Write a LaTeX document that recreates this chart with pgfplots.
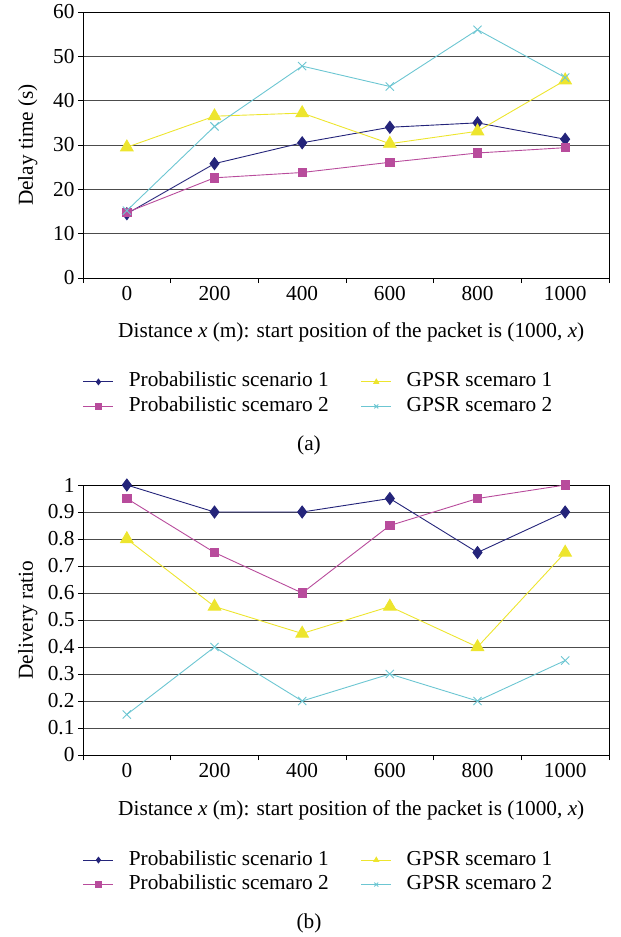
\documentclass[border=0pt]{standalone}
\usepackage{fontspec}
\setmainfont{Liberation Serif}
\usepackage{pgfplots}
\pgfplotsset{compat=1.18}
\definecolor{cP1}{HTML}{24247A}
\definecolor{cP2}{HTML}{B84C9C}
\definecolor{cG1}{HTML}{EDE52E}
\definecolor{cG2}{HTML}{6CC6D2}
\newcommand{\fs}{\fontsize{21.3}{25}\selectfont}
\pgfplotsset{
  common/.style={
    scale only axis, width=526pt,
    xmin=-0.5, xmax=5.5,
    xtick={0,1,2,3,4,5},
    xticklabels={0,200,400,600,800,1000},
    minor xtick={-0.5,0.5,1.5,2.5,3.5,4.5,5.5},
    major x tick style={draw=none},
    minor x tick style={black, line width=0.8pt},
    minor tick length=5pt,
    major tick length=5pt,
    tick align=outside, tick pos=left,
    ymajorgrids, major grid style={black!70, line width=0.9pt},
    axis line style={black, line width=0.9pt},
    y tick style={black, line width=0.8pt},
    font=\fs,
    tick label style={font=\fs},
    /pgf/number format/assume math mode=true,
    legend columns=2,
    legend cell align=left,
    legend style={draw=none, fill=none, font=\fs, inner sep=0pt, outer sep=0pt,
      nodes={inner sep=0pt, text height=15pt, text depth=5pt},
      /tikz/every odd column/.append style={column sep=15pt},
      /tikz/every even column/.append style={column sep=32pt}, row sep=4.5pt},
    legend image code/.code={\draw[mark=none] (0pt,0pt) -- (30pt,0pt);
      \draw[mark size=2.8pt] plot coordinates {(15pt,0pt)};},
    every axis plot/.append style={line width=0.9pt},
    xlabel={Distance \textit{x} (m): start position of the packet is (1000, \textit{x})},
    every axis y label/.style={at={(axis description cs:-0.105,0.5)}, rotate=90, anchor=center},
  },
  p1/.style={cP1, mark=diamond*, mark size=6pt, mark options={fill=cP1}},
  p2/.style={cP2, mark=square*, mark size=4.2pt, mark options={fill=cP2}},
  g1/.style={cG1, mark=triangle*, mark size=7.2pt, mark options={fill=cG1}},
  g2/.style={cG2, mark=x, mark size=5.8pt},
}
\begin{document}
\begin{tikzpicture}
\useasboundingbox (0pt,0pt) rectangle (621pt,-937pt);
\begin{axis}[common, at={(83pt,-278pt)}, anchor=south west, height=266pt,
  ymin=0, ymax=60, ytick={0,10,...,60}, ylabel={Delay time (s)},
  every axis x label/.style={at={(axis description cs:0.51,-0.203)}, anchor=center},
  legend style={at={(axis description cs:0.0,-0.353)}, anchor=north west}]
\addplot[p1] coordinates {(0,14.5) (1,25.8) (2,30.5) (3,34.0) (4,35.0) (5,31.3)};
\addplot[g1] coordinates {(0,29.5) (1,36.5) (2,37.2) (3,30.3) (4,33.1) (5,44.6)};
\addplot[p2] coordinates {(0,14.8) (1,22.6) (2,23.8) (3,26.1) (4,28.2) (5,29.4)};
\addplot[g2] coordinates {(0,15.2) (1,34.2) (2,47.8) (3,43.2) (4,56.0) (5,45.2)};
\legend{Probabilistic scenario 1, GPSR scemaro 1, Probabilistic scemaro 2, GPSR scemaro 2}
\end{axis}
\begin{axis}[common, at={(83pt,-755pt)}, anchor=south west, height=270pt,
  ymin=0, ymax=1, ytick={0,0.1,...,1.01}, ylabel={Delivery ratio},
  yticklabel style={/pgf/number format/.cd, fixed, precision=1},
  every axis x label/.style={at={(axis description cs:0.51,-0.204)}, anchor=center},
  legend style={at={(axis description cs:0.0,-0.352)}, anchor=north west}]
\addplot[p1] coordinates {(0,1) (1,0.9) (2,0.9) (3,0.95) (4,0.75) (5,0.9)};
\addplot[g1] coordinates {(0,0.8) (1,0.55) (2,0.45) (3,0.55) (4,0.4) (5,0.75)};
\addplot[p2] coordinates {(0,0.95) (1,0.75) (2,0.6) (3,0.85) (4,0.95) (5,1)};
\addplot[g2] coordinates {(0,0.15) (1,0.4) (2,0.2) (3,0.3) (4,0.2) (5,0.35)};
\legend{Probabilistic scenario 1, GPSR scemaro 1, Probabilistic scemaro 2, GPSR scemaro 2}
\end{axis}
\node[font=\fs] at (309pt,-445pt) {(a)};
\node[font=\fs] at (309pt,-923pt) {(b)};
\end{tikzpicture}
\end{document}
